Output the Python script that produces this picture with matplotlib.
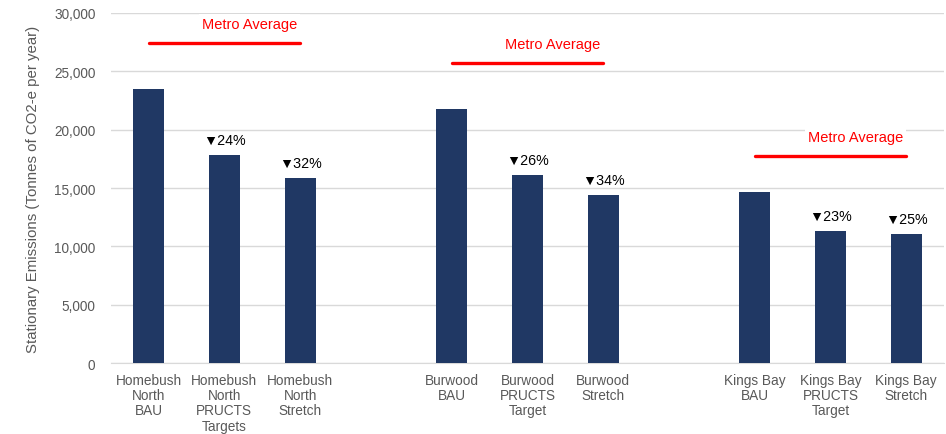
import matplotlib
matplotlib.use("Agg")
import matplotlib.pyplot as plt

categories = ["Homebush\nNorth\nBAU", "Homebush\nNorth\nPRUCTS\nTargets", "Homebush\nNorth\nStretch",
              "Burwood\nBAU", "Burwood\nPRUCTS\nTarget", "Burwood\nStretch",
              "Kings Bay\nBAU", "Kings Bay\nPRUCTS\nTarget", "Kings Bay\nStretch"]
values = [23450, 17800, 15850, 21770, 16100, 14400, 14650, 11300, 11050]
reduction_labels = ["", "▼24%", "▼32%", "", "▼26%", "▼34%", "", "▼23%", "▼25%"]
group_metro_avg = [27430, 25710, 17740]
positions = [0, 1, 2, 4, 5, 6, 8, 9, 10]

plt.rcParams['font.family'] = ['Liberation Sans', 'DejaVu Sans']

fig = plt.figure(figsize=(9.46, 4.35), dpi=100)
ax = fig.add_axes([0.117, 0.163, 0.881, 0.805])

ax.bar(positions, values, width=0.41, color="#203864", zorder=3)

for p, v, lab in zip(positions, values, reduction_labels):
    if lab:
        ax.text(p, v + 700, lab, ha="center", va="bottom", fontsize=10.3, color="black", zorder=4)

for g, avg in enumerate(group_metro_avg):
    x0 = positions[g * 3]
    x1 = positions[g * 3 + 2]
    ax.plot([x0, x1], [avg, avg], color="#FF0000", lw=2.4, solid_capstyle="round", zorder=4)
    ax.text((x0 + x1) / 2 + 0.33, avg + 1650, "Metro Average", ha="center", va="center",
            fontsize=10.5, color="#FF0000", zorder=5,
            bbox=dict(facecolor="white", edgecolor="none", pad=2))

ax.set_xlim(-0.5, 10.5)
ax.set_ylim(0, 30000)
ax.set_yticks(range(0, 30001, 5000))
ax.set_yticklabels([f"{t:,}" for t in range(0, 30001, 5000)])
ax.set_xticks(positions)
ax.set_xticklabels(categories, linespacing=1.12)
ax.tick_params(axis="both", length=0, labelsize=9.8, labelcolor="#595959")
ax.tick_params(axis="x", pad=7)
ax.tick_params(axis="y", pad=11)
ax.grid(axis="y", color="#d9d9d9", lw=1, zorder=0)
for s in ["top", "right", "left"]:
    ax.spines[s].set_visible(False)
ax.spines["bottom"].set_color("#d9d9d9")
ax.set_ylabel("Stationary Emissions (Tonnes of CO2-e per year)", fontsize=10.8, color="#595959", labelpad=10)

fig.savefig("out.png", dpi=100)
